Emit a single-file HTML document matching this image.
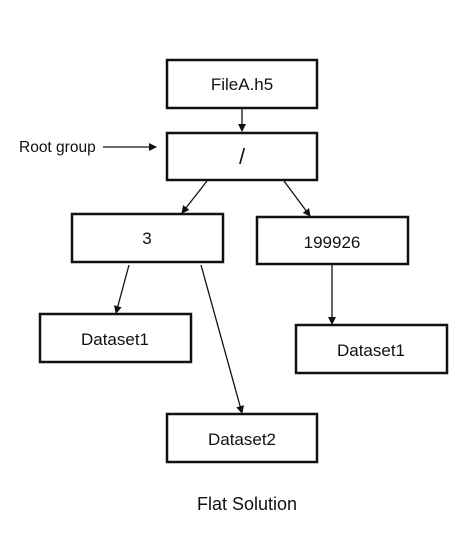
<!DOCTYPE html>
<html><head><style>body{margin:0;background:#fff}</style></head><body>
<svg width="475" height="537" xmlns="http://www.w3.org/2000/svg" font-family="Liberation Sans, sans-serif">
<defs><marker id="a" markerWidth="8" markerHeight="8" refX="7" refY="4" orient="auto" markerUnits="userSpaceOnUse"><path d="M0,0 L8,4 L0,8 z" fill="#111"/></marker></defs>
<g fill="none" stroke="#111" stroke-width="2.5">
<rect x="167" y="60" width="150" height="48"/>
<rect x="167" y="133" width="150" height="47"/>
<rect x="72" y="214" width="151" height="48"/>
<rect x="257" y="217" width="151" height="47"/>
<rect x="40" y="314" width="151" height="48"/>
<rect x="296" y="325" width="151" height="48"/>
<rect x="167" y="414" width="150" height="48"/>
</g>
<g stroke="#111" stroke-width="1.3" marker-end="url(#a)">
<line x1="242" y1="108" x2="242" y2="131"/>
<line x1="103" y1="147" x2="156" y2="147"/>
<line x1="207" y1="181" x2="182" y2="213"/>
<line x1="284" y1="181" x2="310" y2="216"/>
<line x1="129" y1="265" x2="116" y2="313"/>
<line x1="332" y1="264" x2="332" y2="324"/>
<line x1="201" y1="265" x2="242" y2="413"/>
</g>
<g fill="#111" font-size="17" text-anchor="middle">
<text x="242" y="90">FileA.h5</text>
<text x="242" y="164" font-size="22">/</text>
<text x="147" y="244">3</text>
<text x="332" y="248">199926</text>
<text x="115" y="345">Dataset1</text>
<text x="371" y="356">Dataset1</text>
<text x="242" y="445">Dataset2</text>
<text x="247" y="510" font-size="18">Flat Solution</text>
<text x="19" y="152" text-anchor="start" font-size="15.5">Root group</text>
</g>
</svg>
</body></html>
